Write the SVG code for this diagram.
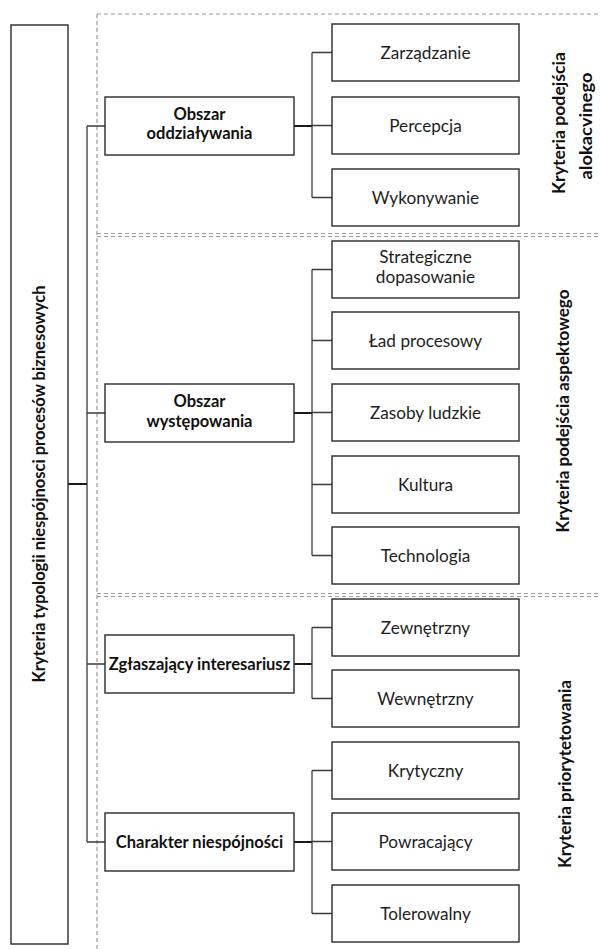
<svg xmlns="http://www.w3.org/2000/svg" width="600" height="949" viewBox="0 0 600 949">
<style>
.box{fill:#fff;stroke:#2a2a2a;stroke-width:1.4}
.dash{fill:none;stroke:#9a9a9a;stroke-width:1.2;stroke-dasharray:4 3}
.con{fill:none;stroke:#3a3a3a;stroke-width:1.3}
.thick{fill:none;stroke:#1a1a1a;stroke-width:2}
.t{font-family:Lato,"Open Sans","Liberation Sans",sans-serif;font-size:17.2px;fill:#1e1e1e;text-anchor:middle}
.b{font-family:Lato,"Open Sans","Liberation Sans",sans-serif;font-size:16.5px;font-weight:bold;fill:#111;text-anchor:middle}
</style>
<rect width="600" height="949" fill="#fff"/>
<g id="sections">
<path class="dash" d="M97,14 H600 M97,14 V949 M97,233.5 H600 M97,236.5 H600 M97,593.5 H600 M97,596.5 H600"/>
</g>
<g id="connectors">
<path class="con" d="M87,126 V842 M87,126 H105 M87,413 H105 M87,664 H105 M87,842 H105"/>
<path class="thick" d="M68,484 H87"/>
<path class="thick" d="M294,126 H312 M294,413 H312 M294,664 H312 M294,842 H312"/>
<path class="con" d="M312,52.5 V197.5 M312,52.5 H332 M312,125.5 H332 M312,197.5 H332"/>
<path class="con" d="M312,269.5 V555.5 M312,269.5 H332 M312,340.5 H332 M312,412.5 H332 M312,484.5 H332 M312,555.5 H332"/>
<path class="con" d="M312,627.5 V698.5 M312,627.5 H332 M312,698.5 H332"/>
<path class="con" d="M312,770.5 V913.5 M312,770.5 H332 M312,841.5 H332 M312,913.5 H332"/>
</g>
<g id="root">
<rect class="box" x="11" y="25" width="57" height="919"/>
<text class="b" transform="translate(45,484) rotate(-90)" textLength="397" lengthAdjust="spacingAndGlyphs">Kryteria typologii niespójnosci procesów biznesowych</text>
</g>
<g id="obszar-oddzialywania">
<rect class="box" x="105" y="97" width="189" height="58"/>
<text class="b" x="199.5" y="120">Obszar</text>
<text class="b" x="199.5" y="139">oddziaływania</text>
</g>
<g id="obszar-wystepowania">
<rect class="box" x="105" y="384" width="189" height="58"/>
<text class="b" x="199.5" y="407">Obszar</text>
<text class="b" x="199.5" y="427">występowania</text>
</g>
<g id="zglaszajacy">
<rect class="box" x="105" y="635" width="189" height="58"/>
<text class="b" x="199.5" y="670">Zgłaszający interesariusz</text>
</g>
<g id="charakter">
<rect class="box" x="105" y="813" width="189" height="58"/>
<text class="b" x="199.5" y="848">Charakter niespójności</text>
</g>
<g id="zarzadzanie"><rect class="box" x="332" y="24" width="187" height="57"/><text class="t" x="425.5" y="59">Zarządzanie</text></g>
<g id="percepcja"><rect class="box" x="332" y="97" width="187" height="57"/><text class="t" x="425.5" y="132">Percepcja</text></g>
<g id="wykonywanie"><rect class="box" x="332" y="169" width="187" height="57"/><text class="t" x="425.5" y="204">Wykonywanie</text></g>
<g id="strategiczne"><rect class="box" x="332" y="241" width="187" height="57"/><text class="t" x="425.5" y="263">Strategiczne</text><text class="t" x="425.5" y="283">dopasowanie</text></g>
<g id="lad"><rect class="box" x="332" y="312" width="187" height="57"/><text class="t" x="425.5" y="347">Ład procesowy</text></g>
<g id="zasoby"><rect class="box" x="332" y="384" width="187" height="57"/><text class="t" x="425.5" y="419">Zasoby ludzkie</text></g>
<g id="kultura"><rect class="box" x="332" y="456" width="187" height="57"/><text class="t" x="425.5" y="491">Kultura</text></g>
<g id="technologia"><rect class="box" x="332" y="527" width="187" height="57"/><text class="t" x="425.5" y="562">Technologia</text></g>
<g id="zewnetrzny"><rect class="box" x="332" y="599" width="187" height="57"/><text class="t" x="425.5" y="634">Zewnętrzny</text></g>
<g id="wewnetrzny"><rect class="box" x="332" y="670" width="187" height="57"/><text class="t" x="425.5" y="705">Wewnętrzny</text></g>
<g id="krytyczny"><rect class="box" x="332" y="742" width="187" height="57"/><text class="t" x="425.5" y="777">Krytyczny</text></g>
<g id="powracajacy"><rect class="box" x="332" y="813" width="187" height="57"/><text class="t" x="425.5" y="848">Powracający</text></g>
<g id="tolerowalny"><rect class="box" x="332" y="885" width="187" height="57"/><text class="t" x="425.5" y="920">Tolerowalny</text></g>
<g id="labels">
<text class="b" transform="translate(565,123) rotate(-90)" textLength="142" lengthAdjust="spacingAndGlyphs">Kryteria podejścia</text>
<text class="b" transform="translate(592,126) rotate(-90)" textLength="107" lengthAdjust="spacingAndGlyphs">alokacvinego</text>
<text class="b" transform="translate(569,411) rotate(-90)" textLength="243" lengthAdjust="spacingAndGlyphs">Kryteria podejścia aspektowego</text>
<text class="b" transform="translate(571,774) rotate(-90)" textLength="188" lengthAdjust="spacingAndGlyphs">Kryteria priorytetowania</text>
</g>
</svg>
